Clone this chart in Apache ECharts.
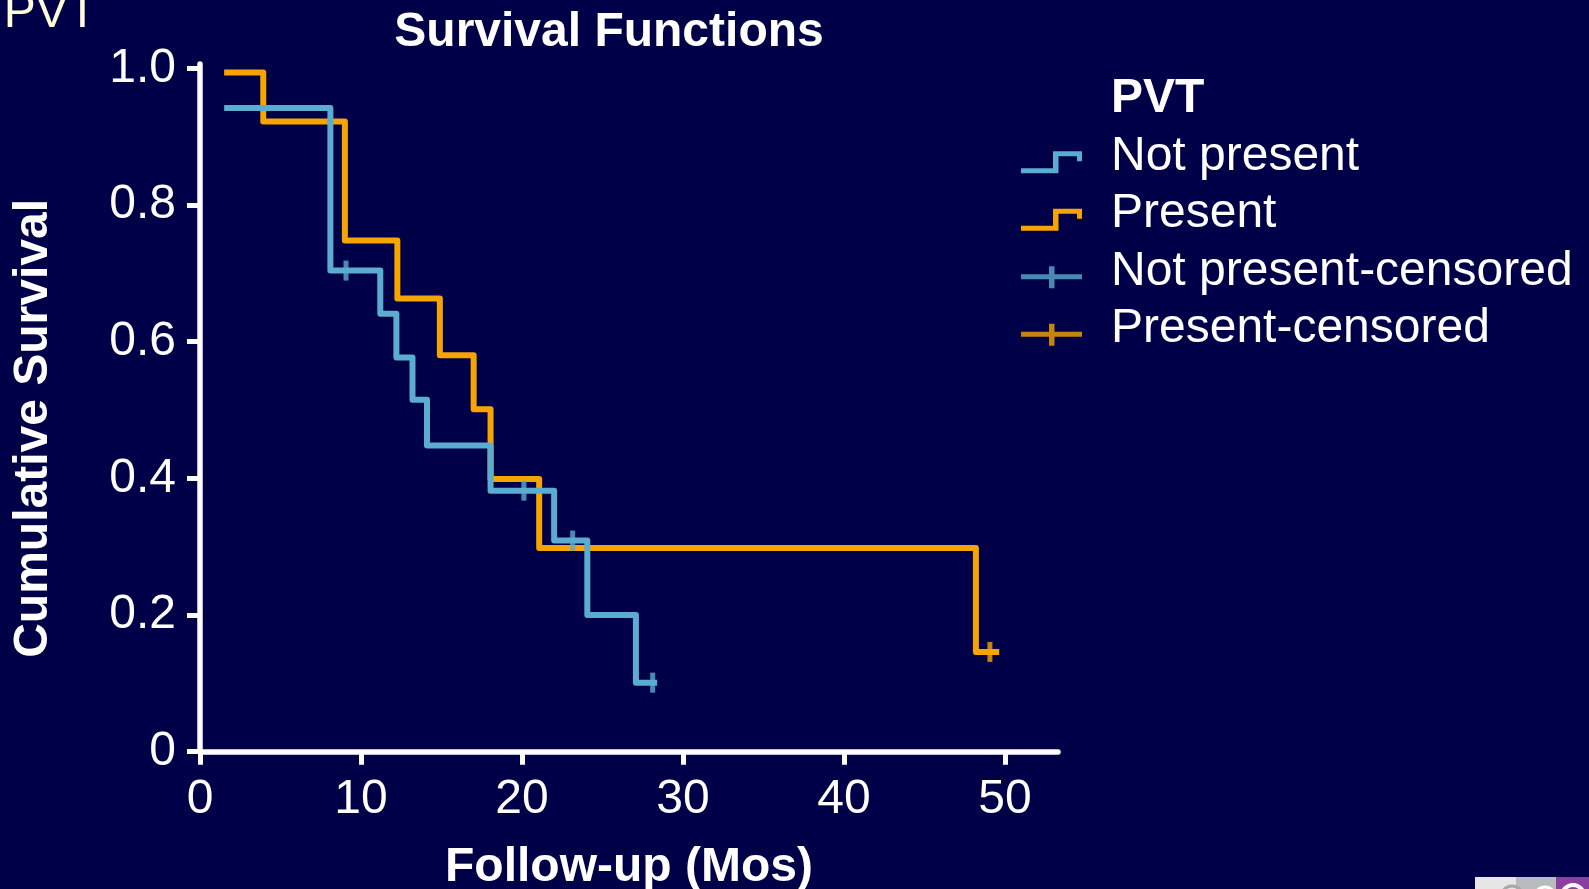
<!DOCTYPE html>
<html>
<head>
<meta charset="utf-8">
<title>Survival Functions</title>
<script src="https://cdn.jsdelivr.net/npm/echarts@6/dist/echarts.min.js"></script>
<style>
  html, body { margin: 0; padding: 0; background: #000048; }
  #chart { width: 1589px; height: 889px; }
</style>
</head>
<body>
<div id="chart"></div>
<script>
// Kaplan–Meier steps: event time (months) and cumulative survival after it
const notPresentTimes    = [1.5, 8.1, 11.2, 12.2, 13.2, 14.1, 18.05, 22.0, 24.06, 27.08, 28.4];
const notPresentSurvival = [0.942, 0.704, 0.641, 0.577, 0.515, 0.448, 0.382, 0.309, 0.200, 0.101, 0.101];
const presentTimes       = [1.5, 3.93, 9.0, 12.26, 14.9, 17.0, 18.05, 21.07, 48.2, 49.65];
const presentSurvival    = [0.994, 0.922, 0.748, 0.663, 0.580, 0.501, 0.399, 0.298, 0.146, 0.146];

// censored observations
const notPresentCensoredTimes    = [9.07, 20.12, 23.15, 28.12];
const notPresentCensoredSurvival = [0.704, 0.382, 0.309, 0.101];
const presentCensoredTimes       = [49.07];
const presentCensoredSurvival    = [0.146];

const xTicks = [0, 10, 20, 30, 40, 50];
const yTicks = [0, 0.2, 0.4, 0.6, 0.8, 1.0];
const seriesNames = ['Not present', 'Present', 'Not present-censored', 'Present-censored'];

const BLUE = '#5AACD0';
const ORANGE = '#F6A500';
const FONT = '"Liberation Sans", Arial, Helvetica, sans-serif';

const zip = (xs, ys) => xs.map((x, i) => [x, ys[i]]);

// legend glyphs (a tiny anchor triangle at the top keeps the glyph low in its box)
const stepIcon = 'path://M0,0L1,0L0,1Z' +
  'M0,280L320,280L320,110L610,110L610,210L560,210L560,160L375,160L375,330L0,330Z';
const censorIcon = 'path://M0,0L1,0L0,1Z' +
  'M0,190L280,190L280,110L335,110L335,190L610,190L610,240L335,240L335,330L280,330L280,240L0,240Z';

const chart = echarts.init(document.getElementById('chart'), null, { renderer: 'canvas' });

const axisLine = { lineStyle: { color: '#ffffff', width: 5.5 } };
const axisTick = { length: 13, lineStyle: { color: '#ffffff', width: 5 } };
const axisLabel = { color: '#ffffff', fontSize: 48, fontFamily: FONT };

chart.setOption({
  backgroundColor: '#000048',
  animation: false,
  grid: {
    left: 200, right: 531, top: 64, bottom: 137.3,
    containLabel: false, outerBoundsMode: 'none'
  },
  xAxis: {
    type: 'value',
    min: 0,
    max: 53.3,
    interval: 10,
    axisLine: axisLine,
    axisTick: Object.assign({ customValues: xTicks }, axisTick),
    axisLabel: Object.assign({ customValues: xTicks, margin: 24 }, axisLabel),
    splitLine: { show: false },
    name: 'Follow-up (Mos)',
    nameLocation: 'middle',
    nameGap: 92,
    nameTextStyle: { color: '#ffffff', fontSize: 48, fontWeight: 'bold', fontFamily: FONT, lineHeight: 48 }
  },
  yAxis: {
    type: 'value',
    min: 0,
    max: 1.0063,
    interval: 0.2,
    axisLine: axisLine,
    axisTick: Object.assign({ customValues: yTicks }, axisTick),
    axisLabel: Object.assign({
      customValues: yTicks,
      margin: 24,
      formatter: v => (v === 0 ? '0' : v.toFixed(1))
    }, axisLabel),
    splitLine: { show: false }
  },
  legend: {
    orient: 'vertical',
    left: 1021,
    top: 132.7,
    padding: 0,
    itemGap: 9.5,
    itemWidth: 61,
    itemHeight: 33,
    symbolKeepAspect: false,
    selectedMode: false,
    textStyle: {
      color: '#ffffff', fontSize: 48, fontFamily: FONT,
      padding: [0, 0, 0, 24]
    },
    data: [
      { name: seriesNames[0], icon: stepIcon, itemStyle: { color: BLUE, borderWidth: 0 } },
      { name: seriesNames[1], icon: stepIcon, itemStyle: { color: ORANGE, borderWidth: 0 } },
      { name: seriesNames[2], icon: censorIcon, itemStyle: { color: BLUE, borderWidth: 0 } },
      { name: seriesNames[3], icon: censorIcon, itemStyle: { color: ORANGE, borderWidth: 0 } }
    ]
  },
  series: [
    {
      name: seriesNames[0], type: 'line', step: 'end', silent: true,
      showSymbol: false, color: BLUE,
      lineStyle: { color: BLUE, width: 6, join: 'round', cap: 'butt' },
      data: zip(notPresentTimes, notPresentSurvival), z: 3
    },
    {
      name: seriesNames[1], type: 'line', step: 'end', silent: true,
      showSymbol: false, color: ORANGE,
      lineStyle: { color: ORANGE, width: 6, join: 'round', cap: 'butt' },
      data: zip(presentTimes, presentSurvival), z: 2
    },
    {
      name: seriesNames[2], type: 'scatter', silent: true, color: BLUE,
      symbol: 'rect', symbolSize: [5, 20],
      itemStyle: { color: BLUE },
      data: zip(notPresentCensoredTimes, notPresentCensoredSurvival), z: 4
    },
    {
      name: seriesNames[3], type: 'scatter', silent: true, color: ORANGE,
      symbol: 'rect', symbolSize: [5, 20],
      itemStyle: { color: ORANGE },
      data: zip(presentCensoredTimes, presentCensoredSurvival), z: 4
    }
  ],
  graphic: [
    {
      type: 'text', x: 609, y: 33, silent: true,
      style: {
        text: 'Survival Functions', fill: '#ffffff',
        fontSize: 48, fontWeight: 'bold', fontFamily: FONT,
        align: 'center', verticalAlign: 'middle',
        textAlign: 'center', textVerticalAlign: 'middle'
      }
    },
    {
      type: 'text', x: 34, y: 428.4, rotation: Math.PI / 2, silent: true,
      style: {
        text: 'Cumulative Survival', fill: '#ffffff',
        fontSize: 48, fontWeight: 'bold', fontFamily: FONT,
        align: 'center', verticalAlign: 'middle',
        textAlign: 'center', textVerticalAlign: 'middle'
      }
    },
    {
      type: 'text', x: 1111, y: 98.6, silent: true,
      style: {
        text: 'PVT', fill: '#ffffff',
        fontSize: 48, fontWeight: 'bold', fontFamily: FONT,
        align: 'left', verticalAlign: 'middle',
        textAlign: 'left', textVerticalAlign: 'middle'
      }
    },
    {
      type: 'text', x: 97, y: 13.7, silent: true,
      style: {
        text: 'PVT', fill: '#FFFCD8',
        fontSize: 48, fontFamily: FONT,
        align: 'right', verticalAlign: 'middle',
        textAlign: 'right', textVerticalAlign: 'middle'
      }
    },
    // corner badge
    { type: 'rect', silent: true, shape: { x: 1475, y: 877, width: 41, height: 12 }, style: { fill: '#E6E6E6' } },
    { type: 'rect', silent: true, shape: { x: 1516, y: 877, width: 40, height: 12 }, style: { fill: '#B9BCBC' } },
    { type: 'rect', silent: true, shape: { x: 1556, y: 877, width: 33, height: 12 }, style: { fill: '#8C3FA0' } },
    { type: 'circle', silent: true, shape: { cx: 1512, cy: 897, r: 11 }, style: { fill: 'none', stroke: '#A8A8A8', lineWidth: 3 } },
    { type: 'circle', silent: true, shape: { cx: 1545, cy: 897, r: 10 }, style: { fill: 'none', stroke: '#ffffff', lineWidth: 3 } },
    { type: 'circle', silent: true, shape: { cx: 1573, cy: 896, r: 11 }, style: { fill: 'none', stroke: '#ffffff', lineWidth: 4 } }
  ]
});
</script>
</body>
</html>
